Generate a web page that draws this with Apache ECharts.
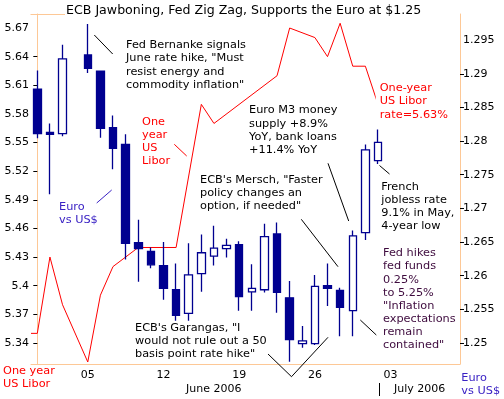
<!DOCTYPE html>
<html>
<head>
<meta charset="utf-8">
<script src="https://cdn.jsdelivr.net/npm/echarts@6/dist/echarts.min.js"></script>
<style>
html, body { margin: 0; padding: 0; background: #fff; }
#euro_chart { width: 504px; height: 399px; }
</style>
</head>
<body>
<div id="euro_chart"></div>
<script>
// one slot per trading day, sunday sessions included (31 May .. 9 Jul 2006)
var days = ['31','01','02','04','05','06','07','08','09','11','12','13','14','15','16','18','19','20','21','22','23','25','26','27','28','29','30','02','03','04','05','06','07','09'];
var labelSlots = [4, 10, 16, 22, 28];
var tickSlots = [4, 10, 16, 22, 27];

// Euro vs US$ daily candles (null = no session)
var euroOpen  = [1.2877, 1.2813, 1.2811, null, 1.2928, 1.2904, 1.2820, 1.2795, 1.2649, 1.2636, 1.2615, 1.2579, 1.2544, 1.2603, 1.2629, 1.2640, 1.2646, 1.2576, 1.2579, 1.2662, 1.2567, 1.2499, 1.2499, 1.2585, 1.2578, 1.2548, 1.2664, 1.2771];
var euroClose = [1.2811, 1.2810, 1.2922, null, 1.2908, 1.2819, 1.2789, 1.2648, 1.2640, 1.2616, 1.2581, 1.2541, 1.2601, 1.2634, 1.2641, 1.2645, 1.2569, 1.2581, 1.2658, 1.2575, 1.2505, 1.2503, 1.2584, 1.2581, 1.2553, 1.2659, 1.2787, 1.2798];
var euroLow   = [1.2804, 1.2721, 1.2807, null, 1.2901, 1.2805, 1.2758, 1.2624, 1.2591, 1.2611, 1.2564, 1.2533, 1.2533, 1.2576, 1.2615, 1.2627, 1.2548, 1.2548, 1.2575, 1.2545, 1.2472, 1.2493, 1.2497, 1.2555, 1.2510, 1.2510, 1.2653, 1.2766];
var euroHigh  = [1.2905, 1.2826, 1.2943, null, 1.2974, 1.2904, 1.2838, 1.2810, 1.2683, 1.2642, 1.2650, 1.2618, 1.2648, 1.2661, 1.2674, 1.2655, 1.2651, 1.2617, 1.2677, 1.2679, 1.2592, 1.2525, 1.2601, 1.2618, 1.2582, 1.2667, 1.2795, 1.2817];

// one-year US Libor, %
var liborSlot = [-0.5, 0, 1, 2, 4, 5, 6, 7, 8, 11, 13, 14, 19, 20, 22, 23, 24, 25, 26, 27];
var liborRate = [5.35, 5.35, 5.43, 5.38, 5.32, 5.39, 5.42, 5.43, 5.44, 5.44, 5.59, 5.57, 5.62, 5.67, 5.66, 5.64, 5.675, 5.63, 5.63, 5.59];

var liborTicks = [5.34, 5.37, 5.40, 5.43, 5.46, 5.49, 5.52, 5.55, 5.58, 5.61, 5.64, 5.67];
var euroTicks = [1.25, 1.255, 1.26, 1.265, 1.27, 1.275, 1.28, 1.285, 1.29, 1.295];

var FONT = 'DejaVu Sans';
var AXIS_ORANGE = '#fdc896';
var NAVY = '#000090';

var candles = [];
for (var i = 0; i < euroOpen.length; i++) {
	if (euroOpen[i] == null) candles.push('-');
	else candles.push([euroOpen[i], euroClose[i], euroLow[i], euroHigh[i]]);
}
var libor = [];
for (var j = 0; j < liborSlot.length; j++) libor.push([liborSlot[j], liborRate[j]]);

function note(x, y, text, color, lh, extra) {
	var style = {
		text: text,
		fill: color || '#000',
		fontFamily: FONT,
		fontSize: 11.3,
		lineHeight: lh || 13.2
	};
	for (var k in extra) style[k] = extra[k];
	return { type: 'text', x: x, y: y, z: 100, style: style };
}
function lead(points, color) {
	return {
		type: 'polyline', z: 100,
		shape: { points: points },
		style: { stroke: color || '#000', lineWidth: 1, fill: null }
	};
}

var option = {
	animation: false,
	backgroundColor: '#fff',
	textStyle: { fontFamily: FONT },
	grid: { left: 31, right: 44, top: 14, bottom: 35, outerBoundsMode: 'none' },
	xAxis: [
		{
			type: 'category',
			data: days,
			boundaryGap: true,
			axisLine: { lineStyle: { color: AXIS_ORANGE, width: 1 } },
			axisTick: {
				alignWithLabel: true, length: 4,
				interval: function (idx) { return tickSlots.indexOf(idx) >= 0; },
				lineStyle: { color: '#000' }
			},
			axisLabel: {
				interval: function (idx) { return labelSlots.indexOf(idx) >= 0; },
				color: '#000', fontSize: 11, margin: 6
			},
			splitLine: { show: false }
		},
		{
			type: 'value', show: false, min: -0.5, max: 33.5
		}
	],
	yAxis: [
		{
			type: 'value', position: 'left',
			min: 5.3179, max: 5.6847,
			axisLine: { show: true, lineStyle: { color: AXIS_ORANGE } },
			axisTick: { show: true, length: 4, customValues: liborTicks.slice(0, -1), lineStyle: { color: '#000' } },
			axisLabel: {
				customValues: liborTicks, color: '#000', fontSize: 11, margin: 2,
				formatter: function (v) { return String(parseFloat(v.toFixed(2))); }
			},
			splitLine: { show: false }
		},
		{
			type: 'value', position: 'right',
			min: 1.24687, max: 1.29888,
			axisLine: { show: true, lineStyle: { color: AXIS_ORANGE } },
			axisTick: { show: true, length: 4, customValues: euroTicks.slice(0, -1), lineStyle: { color: '#000' } },
			axisLabel: {
				customValues: euroTicks, color: '#000', fontSize: 11, margin: 3,
				formatter: function (v) { return String(parseFloat(v.toFixed(3))); }
			},
			splitLine: { show: false }
		}
	],
	series: [
		{
			name: 'One year US Libor',
			type: 'line',
			xAxisIndex: 1, yAxisIndex: 0,
			data: libor,
			showSymbol: false,
			lineStyle: { color: '#ff0000', width: 1 },
			z: 2
		},
		{
			name: 'Euro vs US$',
			type: 'candlestick',
			xAxisIndex: 0, yAxisIndex: 1,
			data: candles,
			barWidth: 8,
			itemStyle: {
				color: '#ffffff', color0: NAVY,
				borderColor: NAVY, borderColor0: NAVY,
				borderWidth: 1.3
			},
			z: 3
		}
	],
	graphic: [
		{ type: 'line', z: 100, shape: { x1: 30.5, y1: 14.5, x2: 65, y2: 14.5 }, style: { stroke: AXIS_ORANGE, lineWidth: 1 } },
		note(66, 4, 'ECB Jawboning, Fed Zig Zag, Supports the Euro at $1.25', '#000', 13, { fontSize: 12.6 }),

		note(126, 38.7, 'Fed Bernanke signals\nJune rate hike, "Must\nresist energy and\ncommodity inflation"'),
		lead([[94.3, 35], [112.7, 54]]),

		note(142, 115.4, 'One\nyear\nUS\nLibor', '#ff0000', 13),
		lead([[174.3, 144.3], [186.7, 156]], '#ff0000'),

		note(249, 103.9, 'Euro M3 money\nsupply +8.9%\nYoY, bank loans\n+11.4% YoY'),
		lead([[328, 163.3], [348.7, 221]]),

		note(200, 173.9, 'ECB\'s Mersch, "Faster\npolicy changes an\noption, if needed"', '#000', 13),
		lead([[301.3, 219.3], [338, 266.7]]),

		note(59, 200.4, 'Euro\nvs US$', '#3a22c4', 13),
		lead([[96.7, 203], [111.7, 190]], '#3a22c4'),

		note(135, 321.1, 'ECB\'s Garangas, "I\nwould not rule out a 50\nbasis point rate hike"'),
		lead([[268, 354], [291.5, 376.7], [328, 337.3]]),

		note(381.3, 180.4, 'French\njobless rate\n9.1% in May,\n4-year low', '#000', 13),
		lead([[379.5, 165.5], [389.5, 174]]),

		note(383, 246.9, 'Fed hikes\nfed funds\n0.25%\nto 5.25%\n"Inflation\nexpectations\nremain\ncontained"', '#3d0a3d', 13.1),
		lead([[360.3, 320], [376.3, 335]]),

		note(375.7, 79.7, 'One-year\nUS Libor\nrate=5.63%', '#ff0000', 13.2, { backgroundColor: '#fff', padding: [2, 4, 2, 4] }),

		note(3, 365.1, 'One year\nUS Libor', '#ff0000', 12.6),
		note(461.3, 372, 'Euro\nvs US$', '#3a22c4', 12.4),

		note(213.7, 389, 'June 2006', '#000', 12, { fontSize: 11, align: 'center', verticalAlign: 'middle' }),
		note(419.7, 389, 'July 2006', '#000', 12, { fontSize: 11, align: 'center', verticalAlign: 'middle' }),
		{ type: 'line', z: 100, shape: { x1: 379.5, y1: 383, x2: 379.5, y2: 396 }, style: { stroke: '#000', lineWidth: 1 } }
	]
};

var chart = echarts.init(document.getElementById('euro_chart'));
chart.setOption(option);
</script>
</body>
</html>
